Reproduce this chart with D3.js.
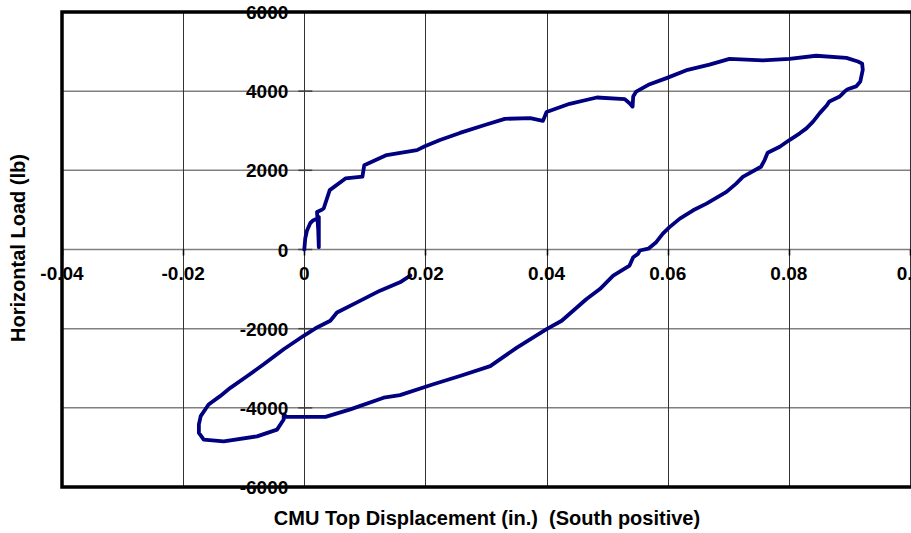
<meta charset="utf-8">
<head>
  <script src="https://d3js.org/d3.v7.min.js"></script>
  <style>
    body { margin: 0; background: #fff; }
    text { font-family: "Liberation Sans", Arial, sans-serif; font-weight: bold; }
  </style>
</head>
<body>
  <svg id="svg" width="911" height="533"></svg>
  <script>
    const dispX = [
      0, 0.00016, 0.00045, 0.0010, 0.0015, 0.0021, 0.0024, 0.0024, 0.0023, 0.0021,
      0.0029, 0.0032, 0.0042, 0.0068, 0.0092, 0.0096, 0.0099, 0.0136, 0.0186, 0.0199,
      0.0224, 0.0257, 0.0298, 0.0331, 0.0373, 0.0394, 0.0400, 0.0438, 0.0483, 0.0529,
      0.0537, 0.0542, 0.0543, 0.0548, 0.0568, 0.0598, 0.0633, 0.0669, 0.0702, 0.0757,
      0.0801, 0.0845, 0.0895, 0.0914, 0.0921, 0.0922, 0.0918, 0.0911, 0.0897, 0.0892,
      0.0884, 0.0867, 0.0862, 0.0851, 0.0840, 0.0829, 0.0818, 0.0801, 0.0785, 0.0765,
      0.0760, 0.0754, 0.0724, 0.0713, 0.0697, 0.0664, 0.0642, 0.0620, 0.0603, 0.0592,
      0.0581, 0.0568, 0.0554, 0.0551, 0.0543, 0.0537, 0.0510, 0.0488, 0.0466, 0.0425,
      0.0400, 0.0351, 0.0307, 0.0257, 0.0213, 0.0158, 0.0131, 0.0076, 0.0035, -0.0029,
      -0.0034, -0.0034, -0.0045, -0.0078, -0.0133, -0.0166, -0.0174, -0.0174, -0.0171, -0.0158,
      -0.0139, -0.0122, -0.0094, -0.0067, -0.0034, -0.0001, 0.0021, 0.0043, 0.0054, 0.0087,
      0.0125, 0.0158, 0.0175
    ];
    const loadY = [
      0, 280, 480, 670, 740, 780, 820, 60, 500, 950,
      1005, 1035, 1500, 1795, 1835, 1840, 2130, 2385, 2510, 2610,
      2765, 2945, 3145, 3300, 3320, 3250, 3475, 3680, 3840, 3800,
      3695, 3610, 3865, 3990, 4160, 4330, 4540, 4670, 4815, 4780,
      4815, 4895, 4840, 4750, 4695, 4540, 4245, 4120, 4050, 3990,
      3865, 3740, 3630, 3445, 3230, 3060, 2935, 2765, 2595, 2445,
      2260, 2090, 1835, 1665, 1455, 1160, 990, 780, 565, 400,
      185, 20, -25, -110, -195, -405, -660, -1000, -1250, -1800,
      -2010, -2480, -2945, -3195, -3405, -3680, -3745, -4040, -4230, -4230,
      -4170, -4295, -4550, -4720, -4845, -4805, -4635, -4420, -4210, -3915,
      -3705, -3495, -3195, -2900, -2520, -2180, -1970, -1800, -1590, -1335,
      -1040, -830, -660
    ];
    const xTicks = [-0.04, -0.02, 0, 0.02, 0.04, 0.06, 0.08, 0.1];
    const yTicks = [-6000, -4000, -2000, 0, 2000, 4000, 6000];

    const svg = d3.select("#svg");
    const x = d3.scaleLinear().domain([-0.04, 0.1]).range([62, 910]);
    const y = d3.scaleLinear().domain([-6000, 6000]).range([487, 12]);

    // grid
    svg.append("g").selectAll("line").data(yTicks).enter().append("line")
      .attr("x1", x(-0.04)).attr("x2", 911)
      .attr("y1", d => y(d)).attr("y2", d => y(d))
      .attr("stroke", "#808080").attr("stroke-width", 1.5);
    svg.append("g").selectAll("line").data(xTicks).enter().append("line")
      .attr("x1", d => Math.round(x(d)) + 0.5).attr("x2", d => Math.round(x(d)) + 0.5)
      .attr("y1", y(6000)).attr("y2", y(-6000))
      .attr("stroke", "#333").attr("stroke-width", 1);

    // tick marks on the axes through the origin
    svg.append("g").selectAll("line").data(xTicks).enter().append("line")
      .attr("x1", d => Math.round(x(d)) + 0.5).attr("x2", d => Math.round(x(d)) + 0.5)
      .attr("y1", y(0)).attr("y2", y(0) + 6)
      .attr("stroke", "#000").attr("stroke-width", 1.5);
    svg.append("g").selectAll("line").data(yTicks).enter().append("line")
      .attr("x1", x(0) - 6).attr("x2", x(0) + 8)
      .attr("y1", d => y(d)).attr("y2", d => y(d))
      .attr("stroke", "#404040").attr("stroke-width", 1.5);

    // frame
    svg.append("rect")
      .attr("x", x(-0.04)).attr("y", y(6000))
      .attr("width", 915 - x(-0.04)).attr("height", y(-6000) - y(6000))
      .attr("fill", "none").attr("stroke", "#000").attr("stroke-width", 3.5);

    // hysteresis curve
    const line = d3.line().x((d, i) => x(dispX[i])).y((d, i) => y(loadY[i]));
    svg.append("path")
      .datum(dispX)
      .attr("d", line)
      .attr("fill", "none")
      .attr("stroke", "#000080")
      .attr("stroke-width", 3.8)
      .attr("stroke-linejoin", "round")
      .attr("stroke-linecap", "round");

    // tick labels (the 0.1 label runs past the right edge, as in the original)
    svg.append("g").selectAll("text").data(xTicks).enter().append("text")
      .attr("x", d => x(d)).attr("y", y(0) + 30)
      .attr("text-anchor", "middle")
      .attr("font-size", 19)
      .text(d => String(d));
    svg.append("g").selectAll("text").data(yTicks).enter().append("text")
      .attr("x", x(0) - 16).attr("y", d => y(d) + 7)
      .attr("text-anchor", "end")
      .attr("font-size", 19)
      .text(d => String(d));

    // axis titles
    svg.append("text")
      .attr("x", 487).attr("y", 525)
      .attr("text-anchor", "middle")
      .attr("font-size", 20)
      .attr("xml:space", "preserve")
      .text("CMU Top Displacement (in.)  (South positive)");
    svg.append("text")
      .attr("transform", "translate(25,248) rotate(-90)")
      .attr("text-anchor", "middle")
      .attr("font-size", 20)
      .text("Horizontal Load (lb)");
  </script>
</body>
